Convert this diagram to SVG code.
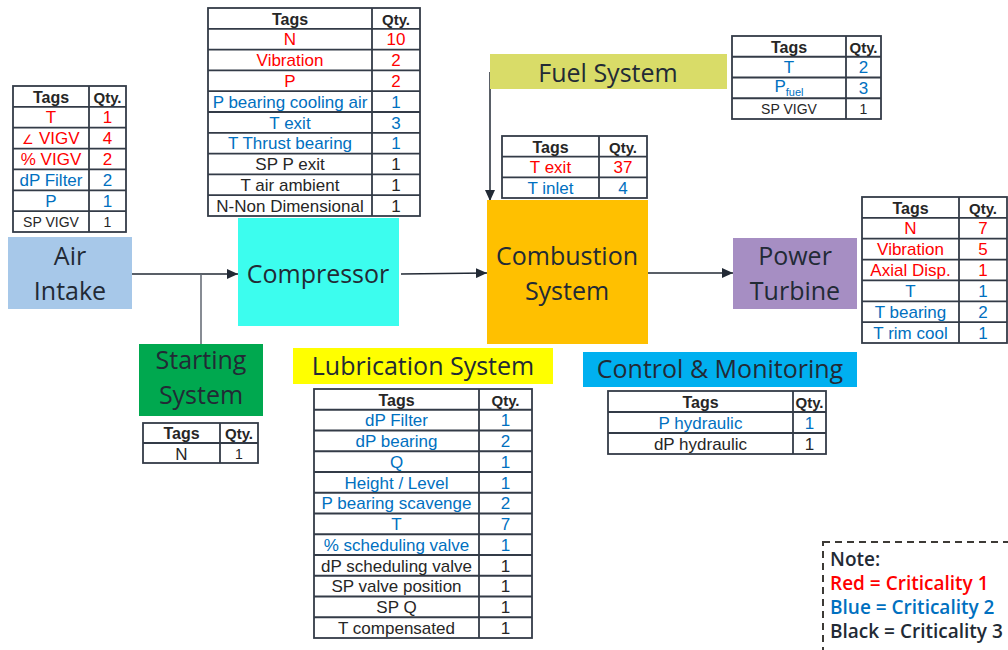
<svg xmlns="http://www.w3.org/2000/svg" width="1008" height="650" viewBox="0 0 1008 650">
  <defs>
    <marker id="arrow" markerUnits="userSpaceOnUse" markerWidth="12" markerHeight="10" refX="11" refY="5" orient="auto">
      <path d="M0,0 L11,5 L0,10 z" fill="#222a35"/>
    </marker>
    <style>
      .blk { font-family: "Open Sans", "Noto Sans", sans-serif; font-size: 25px; fill: #222a35; text-anchor: middle; }
      .tb { fill: #ffffff; stroke: #333b47; stroke-width: 1.8; }
      .tl { stroke: #333b47; stroke-width: 1.8; fill: none; }
      .t { font-family: "Liberation Sans", Arial, sans-serif; font-size: 17px; text-anchor: middle; }
      .hd { font-family: "Liberation Sans", Arial, sans-serif; font-weight: bold; font-size: 16px; fill: #262626; text-anchor: middle; }
      .hq { font-family: "Liberation Sans", Arial, sans-serif; font-weight: bold; font-size: 15px; fill: #262626; text-anchor: middle; }
      .r { fill: #ff0000; }
      .b { fill: #0070c0; }
      .k { fill: #262626; }
      .sm { font-size: 14px; }
      .con { stroke: #222a35; stroke-width: 1.5; fill: none; }
      .note { font-family: "Open Sans", "Noto Sans", sans-serif; font-weight: 600; font-size: 19px; }
    </style>
  </defs>

  <rect width="1008" height="650" fill="#ffffff"/>

  <!-- connectors -->
  <g id="connectors">
    <line class="con" x1="132" y1="274" x2="238" y2="274" marker-end="url(#arrow)"/>
    <line x1="201" y1="274" x2="201" y2="344" stroke="#5f6670" stroke-width="1.5"/>
    <line class="con" x1="401" y1="274" x2="487" y2="273" marker-end="url(#arrow)"/>
    <line class="con" x1="648" y1="273" x2="733" y2="273" marker-end="url(#arrow)"/>
    <line class="con" x1="490" y1="72" x2="490" y2="201" marker-end="url(#arrow)"/>
  </g>

  <!-- Air Intake -->
  <g id="air-intake">
    <rect x="8" y="237" width="124" height="72" fill="#a7c8e9"/>
    <text class="blk" x="70" y="265">Air</text>
    <text class="blk" x="70" y="300">Intake</text>
  </g>
  <g id="air-intake-tags">
    <rect class="tb" x="13" y="86" width="113" height="146"/>
    <path class="tl" d="M89,86 V232 M13,106.86 H126 M13,127.71 H126 M13,148.57 H126 M13,169.43 H126 M13,190.29 H126 M13,211.14 H126"/>
    <text class="hd" x="51" y="102.5">Tags</text><text class="hq" x="107.5" y="102.5">Qty.</text>
    <text class="t r" x="51" y="123.4">T</text><text class="t r" x="107.5" y="123.4">1</text>
    <text class="t r" x="51" y="144.2"><tspan font-size="13">∠</tspan> VIGV</text><text class="t r" x="107.5" y="144.2">4</text>
    <text class="t r" x="51" y="165.1">% VIGV</text><text class="t r" x="107.5" y="165.1">2</text>
    <text class="t b" x="51" y="185.9">dP Filter</text><text class="t b" x="107.5" y="185.9">2</text>
    <text class="t b" x="51" y="206.8">P</text><text class="t b" x="107.5" y="206.8">1</text>
    <text class="t k sm" x="51" y="227">SP VIGV</text><text class="t k sm" x="107.5" y="227">1</text>
  </g>

  <!-- Compressor -->
  <g id="compressor">
    <rect x="238" y="218" width="161" height="108" fill="#3cfdee"/>
    <text class="blk" x="318" y="283">Compressor</text>
  </g>
  <g id="compressor-tags">
    <rect class="tb" x="208" y="8" width="212" height="208"/>
    <path class="tl" d="M372,8 V216 M208,28.8 H420 M208,49.6 H420 M208,70.4 H420 M208,91.2 H420 M208,112 H420 M208,132.8 H420 M208,153.6 H420 M208,174.4 H420 M208,195.2 H420"/>
    <text class="hd" x="290" y="24.5">Tags</text><text class="hq" x="396" y="24.5">Qty.</text>
    <text class="t r" x="290" y="45.3">N</text><text class="t r" x="396" y="45.3">10</text>
    <text class="t r" x="290" y="66.1">Vibration</text><text class="t r" x="396" y="66.1">2</text>
    <text class="t r" x="290" y="86.9">P</text><text class="t r" x="396" y="86.9">2</text>
    <text class="t b" x="290" y="107.7">P bearing cooling air</text><text class="t b" x="396" y="107.7">1</text>
    <text class="t b" x="290" y="128.5">T exit</text><text class="t b" x="396" y="128.5">3</text>
    <text class="t b" x="290" y="149.3">T Thrust bearing</text><text class="t b" x="396" y="149.3">1</text>
    <text class="t k" x="290" y="170.1">SP P exit</text><text class="t k" x="396" y="170.1">1</text>
    <text class="t k" x="290" y="190.9">T air ambient</text><text class="t k" x="396" y="190.9">1</text>
    <text class="t k" x="290" y="211.7">N-Non Dimensional</text><text class="t k" x="396" y="211.7">1</text>
  </g>

  <!-- Fuel System -->
  <g id="fuel-system">
    <rect x="490" y="54" width="237" height="35" fill="#d9dc68"/>
    <text class="blk" x="608" y="82">Fuel System</text>
  </g>
  <g id="fuel-system-tags">
    <rect class="tb" x="732" y="36" width="149" height="83"/>
    <path class="tl" d="M846,36 V119 M732,56.75 H881 M732,77.5 H881 M732,98.25 H881"/>
    <text class="hd" x="789" y="52.5">Tags</text><text class="hq" x="863.5" y="52.5">Qty.</text>
    <text class="t b" x="789" y="73.25">T</text><text class="t b" x="863.5" y="73.25">2</text>
    <text class="t b" x="789" y="92">P<tspan font-size="11" dy="4">fuel</tspan></text><text class="t b" x="863.5" y="94">3</text>
    <text class="t k sm" x="789" y="114">SP VIGV</text><text class="t k sm" x="863.5" y="114">1</text>
  </g>

  <!-- Combustion System -->
  <g id="combustion-system">
    <rect x="487" y="200" width="161" height="144" fill="#ffc000"/>
    <text class="blk" x="567" y="265">Combustion</text>
    <text class="blk" x="567" y="300">System</text>
  </g>
  <g id="combustion-tags">
    <rect class="tb" x="502" y="136" width="145" height="62"/>
    <path class="tl" d="M599,136 V198 M502,156.67 H647 M502,177.33 H647"/>
    <text class="hd" x="550.5" y="152.5">Tags</text><text class="hq" x="623" y="152.5">Qty.</text>
    <text class="t r" x="550.5" y="173.2">T exit</text><text class="t r" x="623" y="173.2">37</text>
    <text class="t b" x="550.5" y="193.8">T inlet</text><text class="t b" x="623" y="193.8">4</text>
  </g>

  <!-- Power Turbine -->
  <g id="power-turbine">
    <rect x="733" y="238" width="124" height="71" fill="#a68ec3"/>
    <text class="blk" x="795" y="265">Power</text>
    <text class="blk" x="795" y="300">Turbine</text>
  </g>
  <g id="power-turbine-tags">
    <rect class="tb" x="862" y="197" width="145" height="146"/>
    <path class="tl" d="M959,197 V343 M862,217.86 H1007 M862,238.71 H1007 M862,259.57 H1007 M862,280.43 H1007 M862,301.29 H1007 M862,322.14 H1007"/>
    <text class="hd" x="910.5" y="213.5">Tags</text><text class="hq" x="983" y="213.5">Qty.</text>
    <text class="t r" x="910.5" y="234.4">N</text><text class="t r" x="983" y="234.4">7</text>
    <text class="t r" x="910.5" y="254.7" font-size="15.5">Vibration</text><text class="t r" x="983" y="255.2">5</text>
    <text class="t r" x="910.5" y="276.1">Axial Disp.</text><text class="t r" x="983" y="276.1">1</text>
    <text class="t b" x="910.5" y="296.9">T</text><text class="t b" x="983" y="296.9">1</text>
    <text class="t b" x="910.5" y="317.8">T bearing</text><text class="t b" x="983" y="317.8">2</text>
    <text class="t b" x="910.5" y="338.6">T rim cool</text><text class="t b" x="983" y="338.6">1</text>
  </g>

  <!-- Starting System -->
  <g id="starting-system">
    <rect x="139" y="344" width="124" height="72" fill="#00a84f"/>
    <text class="blk" x="201" y="369">Starting</text>
    <text class="blk" x="201" y="404">System</text>
  </g>
  <g id="starting-tags">
    <rect class="tb" x="143" y="423" width="115" height="40"/>
    <path class="tl" d="M220,423 V463 M143,443 H258"/>
    <text class="hd" x="181.5" y="439">Tags</text><text class="hq" x="239" y="439">Qty.</text>
    <text class="t k" x="181.5" y="459.5">N</text><text class="t k sm" x="239" y="459">1</text>
  </g>

  <!-- Lubrication System -->
  <g id="lubrication-system">
    <rect x="293" y="348" width="260" height="36" fill="#ffff00"/>
    <text class="blk" x="423" y="375">Lubrication System</text>
  </g>
  <g id="lubrication-tags">
    <rect class="tb" x="314" y="389" width="218" height="249"/>
    <path class="tl" d="M479,389 V638 M314,409.75 H532 M314,430.5 H532 M314,451.25 H532 M314,472 H532 M314,492.75 H532 M314,513.5 H532 M314,534.25 H532 M314,555 H532 M314,575.75 H532 M314,596.5 H532 M314,617.25 H532"/>
    <text class="hd" x="396.5" y="405.5">Tags</text><text class="hq" x="505.5" y="405.5">Qty.</text>
    <text class="t b" x="396.5" y="426.25">dP Filter</text><text class="t b" x="505.5" y="426.25">1</text>
    <text class="t b" x="396.5" y="447">dP bearing</text><text class="t b" x="505.5" y="447">2</text>
    <text class="t b" x="396.5" y="467.75">Q</text><text class="t b" x="505.5" y="467.75">1</text>
    <text class="t b" x="396.5" y="488.5">Height / Level</text><text class="t b" x="505.5" y="488.5">1</text>
    <text class="t b" x="396.5" y="509.25">P bearing scavenge</text><text class="t b" x="505.5" y="509.25">2</text>
    <text class="t b" x="396.5" y="530">T</text><text class="t b" x="505.5" y="530">7</text>
    <text class="t b" x="396.5" y="550.75">% scheduling valve</text><text class="t b" x="505.5" y="550.75">1</text>
    <text class="t k" x="396.5" y="571.5">dP scheduling valve</text><text class="t k" x="505.5" y="571.5">1</text>
    <text class="t k" x="396.5" y="592.25">SP valve position</text><text class="t k" x="505.5" y="592.25">1</text>
    <text class="t k" x="396.5" y="613">SP Q</text><text class="t k" x="505.5" y="613">1</text>
    <text class="t k" x="396.5" y="633.75">T compensated</text><text class="t k" x="505.5" y="633.75">1</text>
  </g>

  <!-- Control & Monitoring -->
  <g id="control-monitoring">
    <rect x="583" y="352" width="274" height="35" fill="#00b0f0"/>
    <text class="blk" x="720" y="378">Control &amp; Monitoring</text>
  </g>
  <g id="control-tags">
    <rect class="tb" x="608" y="391" width="218" height="63"/>
    <path class="tl" d="M793,391 V454 M608,412 H826 M608,433 H826"/>
    <text class="hd" x="700.5" y="407.5">Tags</text><text class="hq" x="809.5" y="407.5">Qty.</text>
    <text class="t b" x="700.5" y="428.5">P hydraulic</text><text class="t b" x="809.5" y="428.5">1</text>
    <text class="t k" x="700.5" y="449.5">dP hydraulic</text><text class="t k" x="809.5" y="449.5">1</text>
  </g>

  <!-- Legend -->
  <g id="note">
    <rect x="823" y="542" width="200" height="120" fill="none" stroke="#3d3a36" stroke-width="2" stroke-dasharray="7 5"/>
    <text class="note" x="830" y="566" fill="#222a35">Note:</text>
    <text class="note" x="830" y="590" fill="#ff0000">Red = Criticality 1</text>
    <text class="note" x="830" y="614" fill="#0070c0">Blue = Criticality 2</text>
    <text class="note" x="830" y="638" fill="#222a35">Black = Criticality 3</text>
  </g>
</svg>
